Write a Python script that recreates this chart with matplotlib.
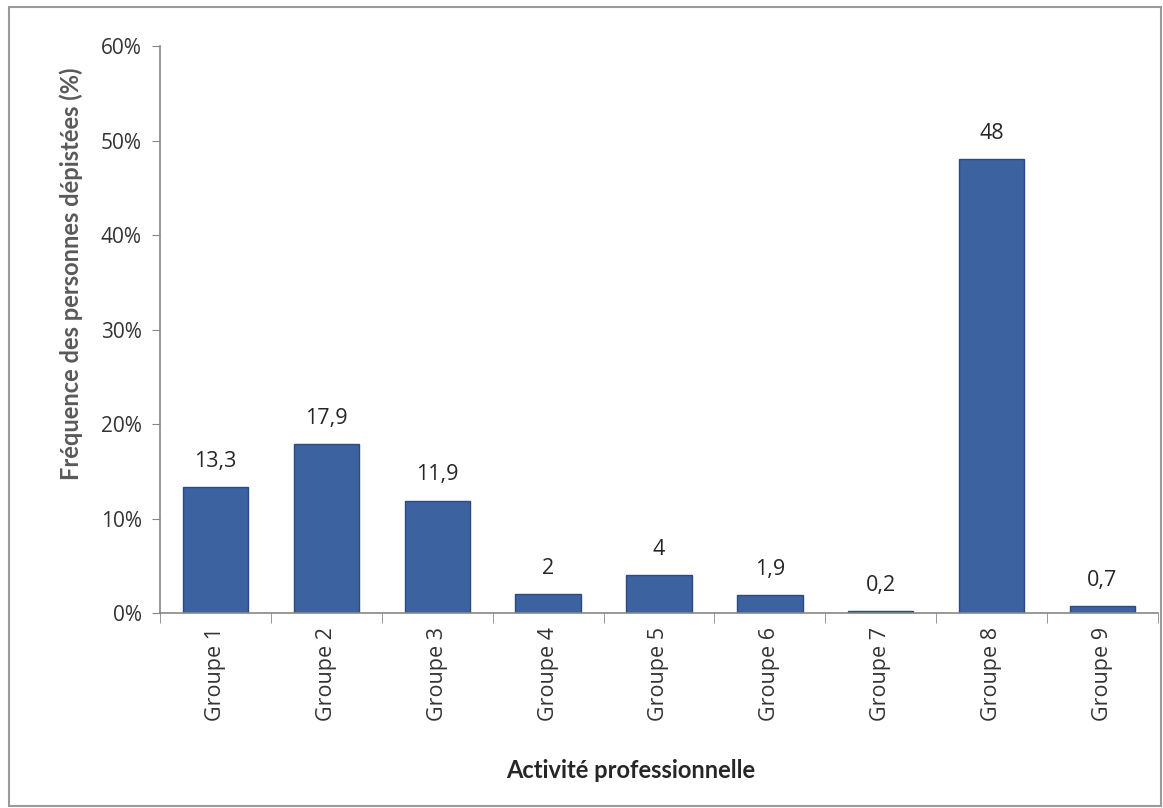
import matplotlib

matplotlib.use("Agg")
import matplotlib.pyplot as plt
from matplotlib.patches import Rectangle
from matplotlib.ticker import FuncFormatter

groups = [f"Groupe {i}" for i in range(1, 10)]
freq = [13.3, 17.9, 11.9, 2, 4, 1.9, 0.2, 48, 0.7]

BAR = "#3d62a0"
AXIS = "#868686"
TEXT = "#333333"
TICK_FONT = ["Open Sans", "DejaVu Sans"]
TITLE_FONT = ["Lato", "DejaVu Sans"]

plt.rcParams["font.family"] = TICK_FONT

fig = plt.figure(figsize=(11.63, 8.08), dpi=100)
ax = fig.add_axes([0.1376, 0.2413, 0.858, 0.7017])

x = list(range(len(groups)))
ax.bar(x, freq, width=0.59, color=BAR, edgecolor="#2b4a80", linewidth=1.0, zorder=2)

for xi, v in zip(x, freq):
    ax.annotate(f"{v:g}".replace(".", ","), (xi, v), xytext=(0, 11),
                textcoords="offset points", ha="center", va="bottom",
                fontsize=15.5, color="#262626")

ax.set_xlim(-0.5, len(groups) - 0.5)
ax.set_ylim(0, 60)
ax.set_yticks(range(0, 61, 10))
ax.yaxis.set_major_formatter(FuncFormatter(lambda v, _: f"{v:.0f}%"))
ax.tick_params(axis="y", labelsize=15, labelcolor=TEXT, color=AXIS,
               length=6, direction="out", pad=7)

# category labels sit between boundary ticks
ax.set_xticks(x)
ax.set_xticklabels(groups, rotation=90, fontsize=15.5, color=TEXT)
ax.tick_params(axis="x", length=0, pad=10)
ax.set_xticks([i - 0.5 for i in range(len(groups) + 1)], minor=True)
ax.tick_params(axis="x", which="minor", length=7, color=AXIS, direction="out")

for side in ("top", "right"):
    ax.spines[side].set_visible(False)
for side in ("left", "bottom"):
    ax.spines[side].set_color(AXIS)
    ax.spines[side].set_linewidth(1.2)

ax.set_ylabel("Fréquence des personnes dépistées (%)", fontsize=17,
              fontweight="bold", color="#595959", family=TITLE_FONT)
ax.yaxis.set_label_coords(-0.077, 0.598)
fig.text(0.542, 0.047, "Activité professionnelle", ha="center", va="center",
         fontsize=17, fontweight="bold", color="#262626", family=TITLE_FONT)

# thin frame around the chart area
fig.patches.append(Rectangle((0.008, 0.003), 0.99, 0.988, transform=fig.transFigure,
                             fill=False, edgecolor="#9a9a9a", linewidth=1.5))

fig.savefig("out.png", dpi=100)
